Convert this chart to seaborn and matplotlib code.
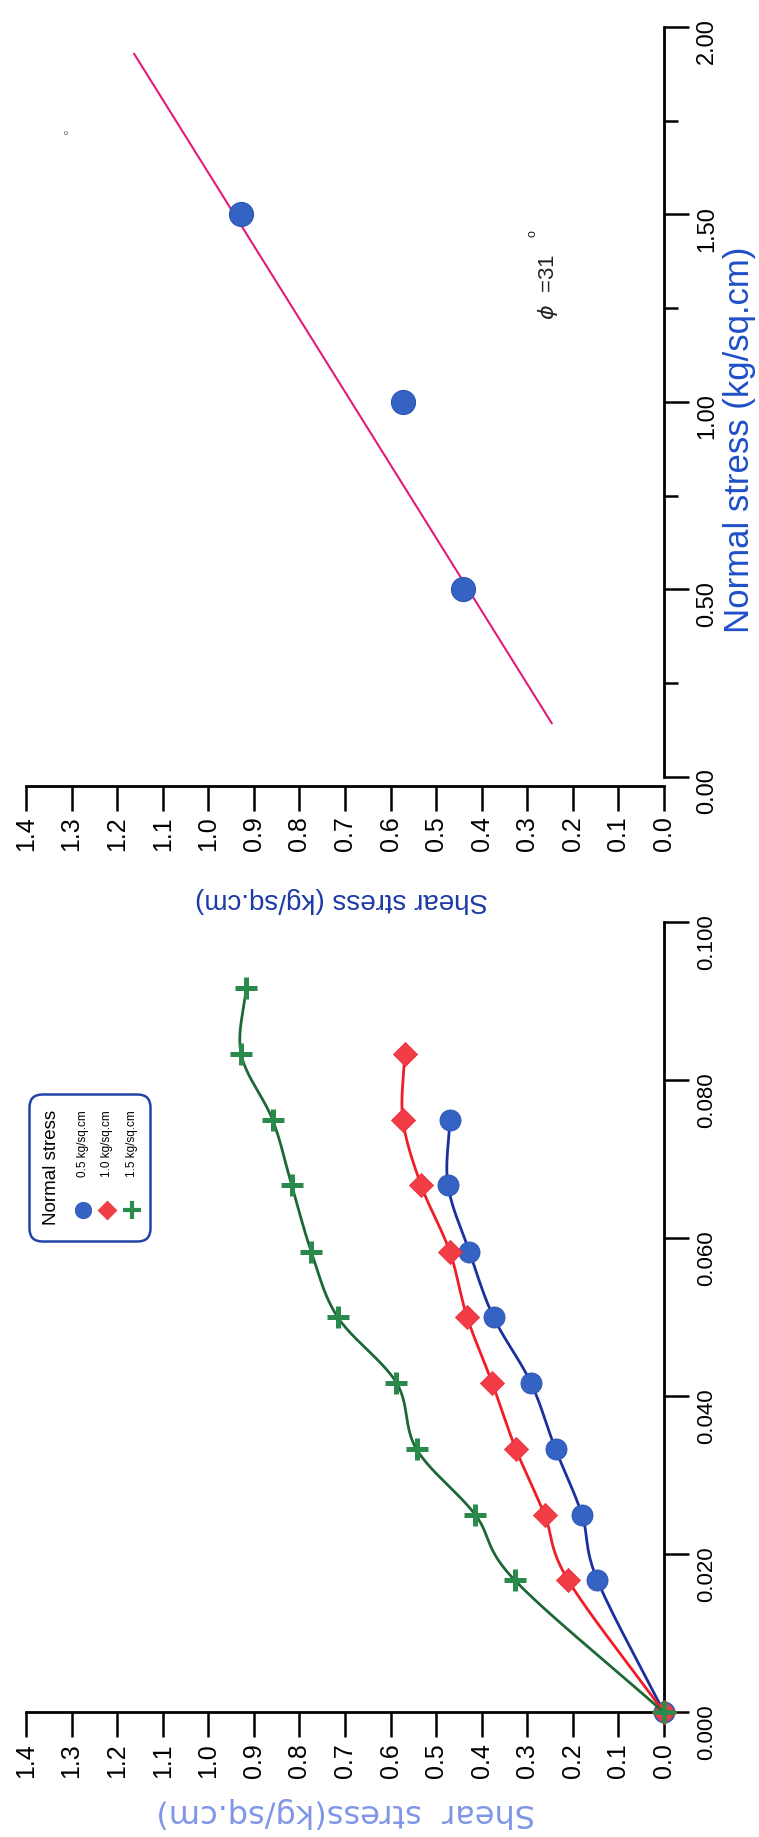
import numpy as np
import pandas as pd
import matplotlib
matplotlib.use("Agg")
import matplotlib.pyplot as plt
import seaborn as sns
from matplotlib.patches import FancyBboxPatch
from matplotlib.ticker import FixedLocator, FormatStrFormatter

# ---------------- data ----------------
strain = [0.0, 0.0167, 0.025, 0.0333, 0.0417, 0.05, 0.0583, 0.0667, 0.075, 0.0833, 0.0917]
shear_05 = [0.0, 0.146, 0.180, 0.238, 0.292, 0.374, 0.427, 0.474, 0.470]
shear_10 = [0.0, 0.210, 0.262, 0.325, 0.377, 0.432, 0.470, 0.533, 0.573, 0.569]
shear_15 = [0.0, 0.327, 0.414, 0.543, 0.587, 0.716, 0.774, 0.817, 0.859, 0.928, 0.917]
series_labels = ["0.5 kg/sq.cm", "1.0 kg/sq.cm", "1.5 kg/sq.cm"]
legend_title = "Normal stress"

normal_stress = [0.5, 1.0, 1.5]
peak_shear = [0.441, 0.572, 0.929]
envelope_normal = [0.142, 1.929]
envelope_shear = [0.246, 1.163]
phi_text = r"$\phi$  =31"

shear_ticks = [0.0, 0.1, 0.2, 0.3, 0.4, 0.5, 0.6, 0.7, 0.8, 0.9, 1.0, 1.1, 1.2, 1.3, 1.4]
strain_ticks = [0.0, 0.02, 0.04, 0.06, 0.08, 0.10]
normal_ticks = [0.0, 0.5, 1.0, 1.5, 2.0]
normal_minor = [0.25, 0.75, 1.25, 1.75]

# ---------------- style ----------------
sns.set_theme(style="ticks")
plt.rcParams["font.family"] = ["Liberation Sans", "DejaVu Sans"]
plt.rcParams["axes.edgecolor"] = "black"

BLUE_M, BLUE_L = "#3563c4", "#1b2f9e"
RED_M, RED_L = "#f23c46", "#f01c26"
GREEN_M, GREEN_L = "#2a8a4c", "#1d6836"


def smooth(xs, ys, n=24):
    P = np.column_stack([xs, ys]).astype(float)
    P = np.vstack([2 * P[0] - P[1], P, 2 * P[-1] - P[-2]])
    t = np.linspace(0, 1, n, endpoint=False)[:, None]
    out = []
    for i in range(1, len(P) - 2):
        p0, p1, p2, p3 = P[i - 1], P[i], P[i + 1], P[i + 2]
        seg = 0.5 * (2 * p1 + (-p0 + p2) * t + (2 * p0 - 5 * p1 + 4 * p2 - p3) * t ** 2
                     + (-p0 + 3 * p1 - 3 * p2 + p3) * t ** 3)
        out.append(seg)
    out.append(P[-2][None, :])
    a = np.vstack(out)
    return a[:, 0], a[:, 1]


def style_axes(ax):
    for s in ["top", "left"]:
        ax.spines[s].set_visible(False)
    for s in ["bottom", "right"]:
        ax.spines[s].set_linewidth(2.0)
        ax.spines[s].set_color("black")
    ax.yaxis.tick_right()
    ax.tick_params(axis="both", which="major", direction="out", length=18, width=1.8,
                   color="black", labelcolor="black")
    ax.tick_params(axis="x", labelrotation=90, labelsize=18, pad=4)
    ax.tick_params(axis="y", labelrotation=90, labelsize=16, pad=5)
    ax.set_facecolor("none")
    ax.grid(False)


fig = plt.figure(figsize=(7.59, 18.37), dpi=100)
fig.patch.set_facecolor("white")

# ---------------- top panel: failure envelope ----------------
ax_t = fig.add_axes([0.0343, 0.5721, 0.8405, 0.4132])
style_axes(ax_t)
sns.lineplot(x=envelope_shear, y=envelope_normal, sort=False, estimator=None,
             color="#e5197b", lw=1.5, ax=ax_t)
sns.scatterplot(x=peak_shear, y=normal_stress, s=300, color=BLUE_M,
                edgecolor="#2a55b0", linewidth=0.8, ax=ax_t, zorder=5)
ax_t.set_xlim(1.4, 0)
ax_t.set_ylim(-0.025, 2.0)
ax_t.spines["right"].set_bounds(0, 2.0)
ax_t.xaxis.set_major_locator(FixedLocator(shear_ticks))
ax_t.xaxis.set_major_formatter(FormatStrFormatter("%.1f"))
ax_t.yaxis.set_major_locator(FixedLocator(normal_ticks))
ax_t.yaxis.set_minor_locator(FixedLocator(normal_minor))
ax_t.yaxis.set_major_formatter(FormatStrFormatter("%.2f"))
ax_t.tick_params(axis="y", which="minor", direction="out", length=10, width=1.8, color="black")
ax_t.tick_params(axis="y", labelsize=17)
ax_t.set_xlabel("Shear stress (kg/sq.cm)", rotation=180, color="#1c3aa6", fontsize=20)
ax_t.xaxis.label.set_va("center")
ax_t.xaxis.set_label_coords(0.495, -0.150)
ax_t.set_ylabel("Normal stress (kg/sq.cm)", rotation=90, color="#1f4fc8", fontsize=25)
ax_t.yaxis.set_label_position("right")
ax_t.yaxis.label.set_va("center")
ax_t.yaxis.label.set_ha("center")
ax_t.yaxis.set_label_coords(1.119, 0.456)
ax_t.text(0.255, 1.219, phi_text, rotation=90, rotation_mode="anchor",
          ha="left", va="center", fontsize=16, color="#222222")
ax_t.text(0.288, 1.448, "o", rotation=90, ha="center", va="center", fontsize=9, color="#222222")
ax_t.text(1.31, 1.72, "o", rotation=90, ha="center", va="center", fontsize=5, color="#444444")

# ---------------- bottom panel: shear stress vs strain ----------------
ax_b = fig.add_axes([0.0343, 0.0678, 0.8405, 0.4303])
style_axes(ax_b)
series = [
    (shear_05, "o", 230, BLUE_M, BLUE_L, "#2a52b0", 0.6),
    (shear_10, "D", 150, RED_M, RED_L, "#e8303a", 0.6),
    (shear_15, "+", 260, GREEN_M, GREEN_L, GREEN_M, 3.6),
]
for i, (sh, mk, sz, mc, lc, ec, lw) in enumerate(series):
    st = strain[:len(sh)]
    xs, ys = smooth(sh, st)
    sns.lineplot(x=xs, y=ys, sort=False, estimator=None, color=lc, lw=2.0,
                 ax=ax_b, clip_on=False, zorder=3 + i)
    if mk == "+":
        sns.scatterplot(x=sh, y=st, marker=mk, s=sz, color=mc,
                        linewidth=lw, ax=ax_b, clip_on=False, zorder=4 + i)
    else:
        sns.scatterplot(x=sh, y=st, marker=mk, s=sz, color=mc, edgecolor=ec,
                        linewidth=lw, ax=ax_b, clip_on=False, zorder=4 + i)
ax_b.set_xlim(1.4, 0)
ax_b.set_ylim(0, 0.1)
ax_b.xaxis.set_major_locator(FixedLocator(shear_ticks))
ax_b.xaxis.set_major_formatter(FormatStrFormatter("%.1f"))
ax_b.yaxis.set_major_locator(FixedLocator(strain_ticks))
ax_b.yaxis.set_major_formatter(FormatStrFormatter("%.3f"))
ax_b.set_xlabel("Shear  stress(kg/sq.cm)", rotation=180, color="#7f95e6", fontsize=23,
                family=["DejaVu Sans"])
ax_b.xaxis.label.set_va("center")
ax_b.xaxis.set_label_coords(0.5016, -0.127)
ax_b.set_ylabel("")

# ---------------- legend (rotated, drawn manually) ----------------
lax = fig.add_axes([28 / 759, 1 - 1243 / 1837, 124 / 759, 150 / 1837])
lax.set_xlim(0, 124)
lax.set_ylim(0, 150)
lax.axis("off")
lax.add_patch(FancyBboxPatch((1.5, 1.5), 121, 147, boxstyle="round,pad=0,rounding_size=13",
                             fc="white", ec="#2444a8", lw=1.8))
lax.text(24, 18, legend_title, rotation=90, rotation_mode="anchor", ha="left", va="center",
         fontsize=13.5, color="black")
for xc, lab, (sh, mk, sz, mc, lc, ec, lw) in zip([55, 79, 104], series_labels, series):
    if mk == "+":
        lax.scatter([xc], [33], marker=mk, s=sz * 0.6, color=mc, linewidth=3.0)
    else:
        lax.scatter([xc], [33], marker=mk, s=sz * 0.6, color=mc, edgecolor=ec, linewidth=lw)
    lax.text(xc, 66, lab, rotation=90, rotation_mode="anchor", ha="left", va="center",
             fontsize=8.5, color="black")

fig.savefig("out.png", dpi=100, facecolor="white")
